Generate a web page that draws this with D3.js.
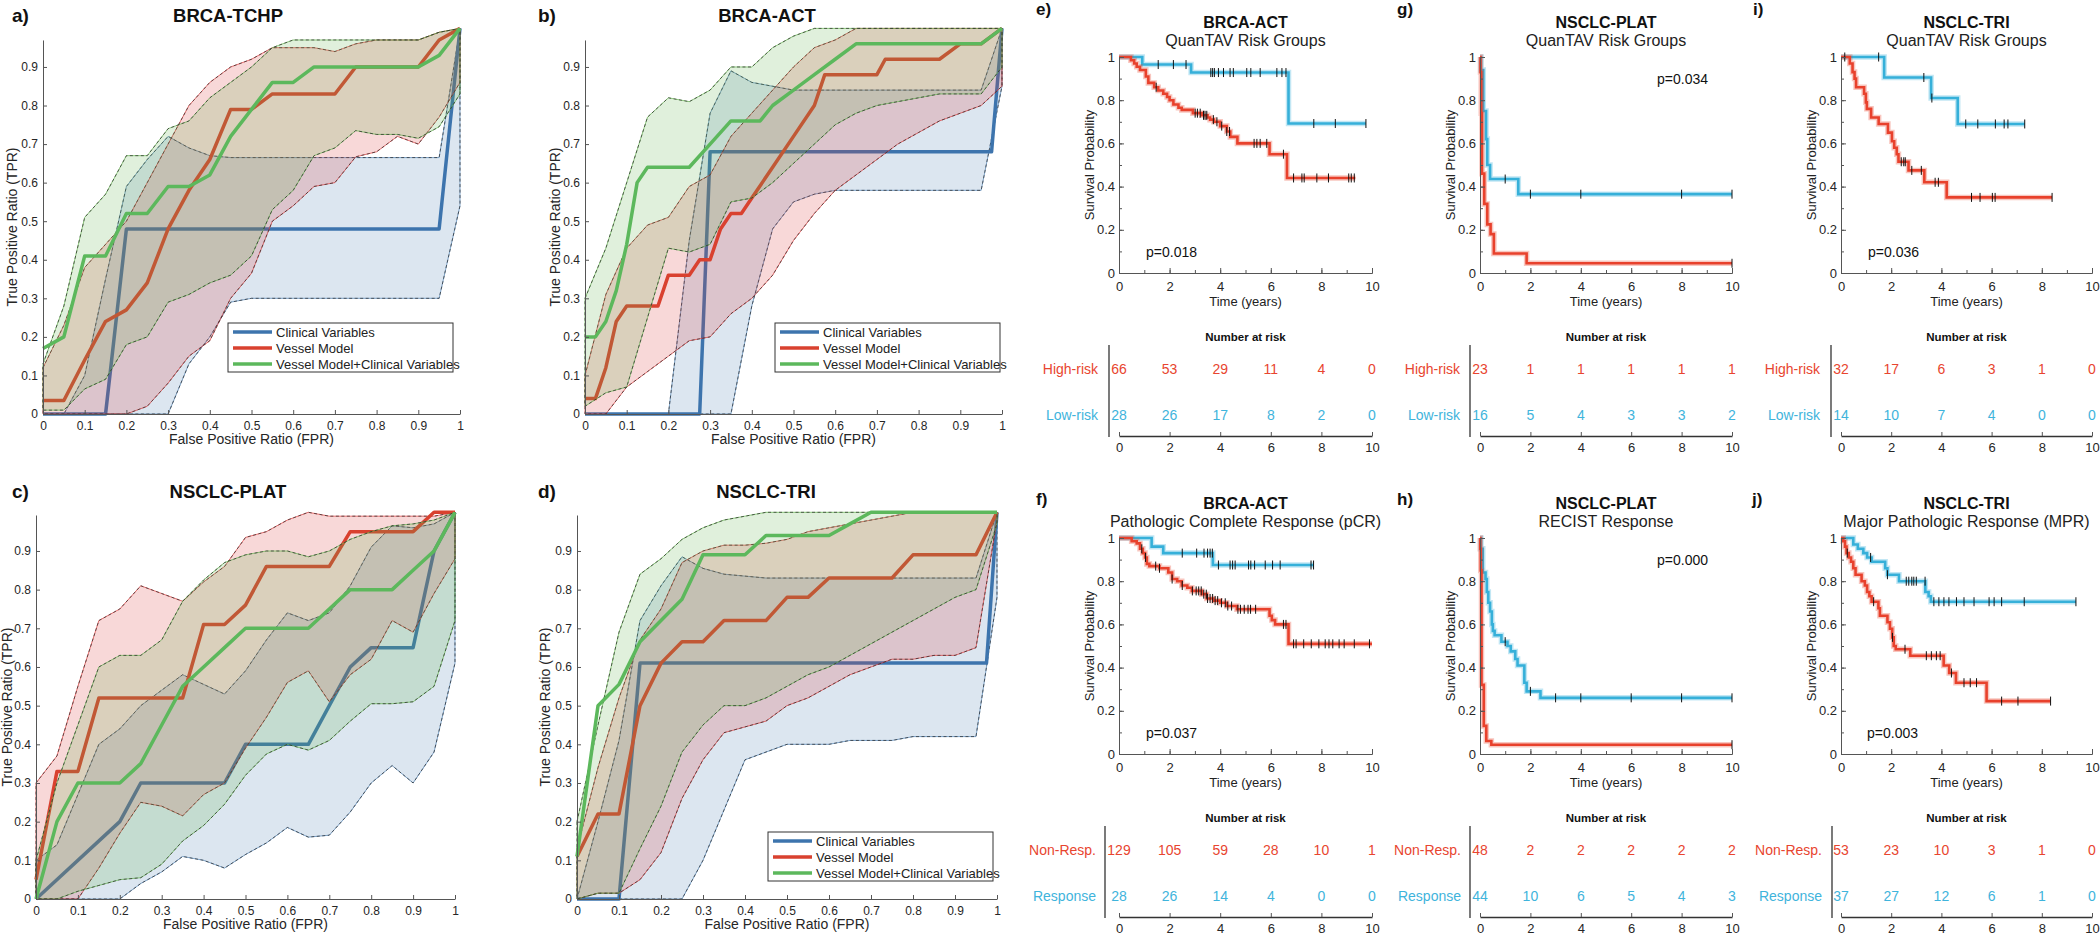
<!DOCTYPE html>
<html><head><meta charset="utf-8">
<script src="https://cdn.jsdelivr.net/npm/d3@7"></script>
<style>
body{margin:0;background:#fff}
svg{display:block}
text{font-family:"Liberation Sans",Arial,Helvetica,sans-serif}
</style>
</head><body>
<svg id="c" width="2100" height="936"></svg>
<script>
// ---------------- DATA ----------------
const FPR_GRID = [0,0.05,0.1,0.15,0.2,0.25,0.3,0.35,0.4,0.45,0.5,0.55,0.6,0.65,0.7,0.75,0.8,0.85,0.9,0.95,1];
const ROC_X_TICKS = [0,0.1,0.2,0.3,0.4,0.5,0.6,0.7,0.8,0.9,1];
const ROC_Y_TICKS = [0,0.1,0.2,0.3,0.4,0.5,0.6,0.7,0.8,0.9];
const rocTitles = ["BRCA-TCHP","BRCA-ACT","NSCLC-PLAT","NSCLC-TRI"];
const rocLetters = ["a)","b)","c)","d)"];
const seriesNames = ["Clinical Variables","Vessel Model","Vessel Model+Clinical Variables"];

// a) BRCA-TCHP
const aClin = [[0,0],[0.15,0],[0.2,0.48],[0.95,0.48],[1,1]];
const aVes  = [[0,0.035],[0.05,0.035],[0.1,0.14],[0.15,0.24],[0.2,0.27],[0.25,0.34],[0.3,0.48],[0.35,0.58],[0.4,0.66],[0.45,0.79],[0.5,0.79],[0.55,0.83],[0.7,0.83],[0.75,0.9],[0.9,0.9],[0.95,0.97],[1,1]];
const aComb = [[0,0.17],[0.05,0.2],[0.1,0.41],[0.15,0.41],[0.2,0.52],[0.25,0.52],[0.3,0.59],[0.35,0.59],[0.4,0.62],[0.45,0.72],[0.5,0.79],[0.55,0.86],[0.6,0.86],[0.65,0.9],[0.9,0.9],[0.95,0.93],[1,1]];
const aClinHi = [0,0,0.1,0.35,0.59,0.66,0.72,0.69,0.67,0.665,0.665,0.665,0.665,0.665,0.665,0.665,0.665,0.665,0.665,0.665,1];
const aClinLo = [0,0,0,0,0,0,0,0.13,0.2,0.29,0.3,0.3,0.3,0.3,0.3,0.3,0.3,0.3,0.3,0.3,0.54];
const aVesHi  = [0.12,0.23,0.38,0.44,0.5,0.6,0.7,0.8,0.86,0.9,0.92,0.95,0.95,0.95,0.94,0.96,0.97,0.97,0.97,0.99,1];
const aVesLo  = [0,0,0,0,0,0.02,0.08,0.15,0.19,0.3,0.365,0.5,0.54,0.59,0.6,0.667,0.68,0.72,0.7,0.77,0.86];
const aCombHi = [0.13,0.28,0.51,0.57,0.67,0.67,0.74,0.76,0.82,0.86,0.9,0.95,0.97,0.97,0.97,0.97,0.97,0.97,0.97,0.99,1];
const aCombLo = [0.01,0.01,0.065,0.09,0.18,0.2,0.29,0.31,0.34,0.36,0.41,0.53,0.58,0.67,0.69,0.735,0.725,0.725,0.715,0.745,0.83];

// b) BRCA-ACT
const bClin = [[0,0],[0.275,0],[0.3,0.68],[0.975,0.68],[1,1]];
const bVes  = [[0,0.04],[0.025,0.04],[0.05,0.12],[0.075,0.24],[0.1,0.28],[0.175,0.28],[0.2,0.36],[0.25,0.36],[0.275,0.4],[0.3,0.4],[0.325,0.48],[0.35,0.52],[0.375,0.52],[0.4,0.56],[0.45,0.64],[0.5,0.72],[0.55,0.8],[0.575,0.88],[0.7,0.88],[0.72,0.92],[0.85,0.92],[0.9,0.96],[0.95,0.96],[1,1]];
const bComb = [[0,0.2],[0.025,0.2],[0.05,0.24],[0.075,0.32],[0.1,0.44],[0.125,0.6],[0.15,0.64],[0.25,0.64],[0.3,0.7],[0.35,0.76],[0.42,0.76],[0.45,0.8],[0.5,0.84],[0.55,0.88],[0.6,0.92],[0.65,0.96],[0.95,0.96],[1,1]];
const bClinHi = [0,0,0,0,0,0.45,0.78,0.89,0.86,0.85,0.84,0.84,0.84,0.84,0.84,0.84,0.84,0.84,0.84,0.84,1];
const bClinLo = [0,0,0,0,0,0,0,0,0.28,0.48,0.55,0.57,0.58,0.58,0.58,0.58,0.58,0.58,0.58,0.58,0.85];
const bVesHi  = [0.1,0.31,0.43,0.49,0.51,0.59,0.62,0.72,0.78,0.84,0.9,0.95,0.97,1,1,1,1,1,1,1,1];
const bVesLo  = [0,0,0.07,0.11,0.15,0.19,0.2,0.26,0.3,0.36,0.45,0.52,0.58,0.62,0.66,0.7,0.73,0.76,0.78,0.8,0.85];
const bCombHi = [0.3,0.43,0.6,0.77,0.82,0.81,0.84,0.9,0.9,0.95,0.98,1,1,1,1,1,1,1,1,1,1];
const bCombLo = [0.02,0.055,0.07,0.25,0.43,0.42,0.44,0.55,0.56,0.6,0.65,0.7,0.75,0.78,0.8,0.81,0.82,0.83,0.83,0.83,0.9];

// c) NSCLC-PLAT
const cClin = [[0,0],[0.2,0.2],[0.25,0.3],[0.45,0.3],[0.5,0.4],[0.65,0.4],[0.7,0.5],[0.75,0.6],[0.8,0.65],[0.9,0.65],[0.95,0.9],[1,1]];
const cVes  = [[0,0.05],[0.05,0.33],[0.1,0.33],[0.15,0.52],[0.35,0.52],[0.4,0.71],[0.45,0.71],[0.5,0.76],[0.55,0.86],[0.7,0.86],[0.75,0.95],[0.9,0.95],[0.95,1],[1,1]];
const cComb = [[0,0],[0.05,0.2],[0.1,0.3],[0.2,0.3],[0.25,0.35],[0.3,0.45],[0.35,0.55],[0.4,0.6],[0.45,0.65],[0.5,0.7],[0.65,0.7],[0.7,0.75],[0.75,0.8],[0.85,0.8],[0.9,0.85],[0.95,0.9],[1,1]];
const cClinHi = [0.1,0.14,0.27,0.4,0.44,0.5,0.54,0.58,0.555,0.53,0.59,0.67,0.74,0.72,0.74,0.81,0.91,0.965,0.96,0.97,1];
const cClinLo = [0,0,0,0,0,0.04,0.07,0.11,0.1,0.08,0.115,0.145,0.185,0.16,0.165,0.225,0.3,0.345,0.3,0.38,0.61];
const cVesHi  = [0.3,0.37,0.55,0.72,0.75,0.81,0.79,0.77,0.82,0.86,0.935,0.95,0.98,1,0.99,0.99,0.99,0.99,0.99,0.99,1];
const cVesLo  = [0,0,0,0.08,0.17,0.25,0.24,0.215,0.27,0.3,0.39,0.47,0.56,0.59,0.51,0.58,0.62,0.72,0.69,0.79,0.88];
const cCombHi = [0.1,0.3,0.45,0.6,0.63,0.63,0.67,0.77,0.825,0.87,0.89,0.9,0.9,0.885,0.9,0.93,0.95,0.965,0.97,0.98,1];
const cCombLo = [0,0,0.02,0.035,0.05,0.055,0.09,0.15,0.19,0.245,0.32,0.375,0.4,0.385,0.41,0.46,0.505,0.505,0.51,0.55,0.72];

// d) NSCLC-TRI
const dClin = [[0,0],[0.1,0],[0.15,0.61],[0.975,0.61],[1,1]];
const dVes  = [[0,0.11],[0.05,0.22],[0.1,0.22],[0.15,0.5],[0.2,0.61],[0.25,0.665],[0.3,0.665],[0.35,0.72],[0.45,0.72],[0.5,0.78],[0.55,0.78],[0.6,0.83],[0.75,0.83],[0.8,0.89],[0.95,0.89],[1,1]];
const dComb = [[0,0.11],[0.05,0.5],[0.1,0.555],[0.15,0.665],[0.2,0.72],[0.25,0.775],[0.3,0.89],[0.4,0.89],[0.45,0.94],[0.6,0.94],[0.65,0.97],[0.7,1],[1,1]];
const dClinHi = [0,0.2,0.41,0.72,0.81,0.885,0.855,0.84,0.835,0.83,0.83,0.83,0.83,0.83,0.83,0.83,0.83,0.83,0.83,0.83,1];
const dClinLo = [0,0,0,0,0,0,0.1,0.23,0.36,0.38,0.4,0.4,0.4,0.41,0.41,0.41,0.42,0.42,0.42,0.42,0.78];
const dVesHi  = [0.13,0.34,0.52,0.67,0.75,0.87,0.9,0.915,0.915,0.92,0.93,0.95,0.96,0.97,0.98,0.99,1,1,1,1,1];
const dVesLo  = [0,0.015,0.015,0.05,0.12,0.26,0.36,0.43,0.445,0.46,0.5,0.52,0.55,0.58,0.6,0.62,0.62,0.63,0.63,0.65,0.98];
const dCombHi = [0.2,0.45,0.69,0.84,0.88,0.93,0.96,0.98,0.99,1,1,1,1,1,1,1,1,1,1,1,1];
const dCombLo = [0,0.015,0.015,0.13,0.24,0.38,0.45,0.5,0.5,0.52,0.55,0.58,0.6,0.63,0.66,0.69,0.72,0.75,0.78,0.8,0.97];

// Kaplan-Meier panels
const kmLetters = ["e)","g)","i)","f)","h)","j)"];
const kmTitles = ["BRCA-ACT","NSCLC-PLAT","NSCLC-TRI","BRCA-ACT","NSCLC-PLAT","NSCLC-TRI"];
const kmSubtitles = ["QuanTAV Risk Groups","QuanTAV Risk Groups","QuanTAV Risk Groups","Pathologic Complete Response (pCR)","RECIST Response","Major Pathologic Response (MPR)"];
const kmPValues = ["p=0.018","p=0.034","p=0.036","p=0.037","p=0.000","p=0.003"];
const kmGroupLabels = [["High-risk","Low-risk"],["High-risk","Low-risk"],["High-risk","Low-risk"],["Non-Resp.","Response"],["Non-Resp.","Response"],["Non-Resp.","Response"]];
const riskTimes = [0,2,4,6,8,10];
const KM_X_TICKS = [0,2,4,6,8,10];
const KM_Y_TICKS = [0,0.2,0.4,0.6,0.8,1];

// e) BRCA-ACT QuanTAV
const eRed = [[0,1],[0.47,0.985],[0.6,0.97],[0.7,0.955],[0.83,0.94],[1.06,0.91],[1.16,0.88],[1.39,0.86],[1.55,0.845],[1.75,0.83],[1.9,0.815],[2.0,0.8],[2.15,0.78],[2.35,0.765],[2.48,0.755],[2.92,0.74],[3.27,0.73],[3.5,0.72],[3.6,0.71],[3.75,0.7],[4.0,0.68],[4.26,0.655],[4.4,0.63],[4.68,0.6],[5.95,0.55],[6.64,0.44],[9.34,0.44]];
const eRedCens = [1.47,3.01,3.1,3.21,3.34,3.4,3.47,3.73,3.87,4.06,4.26,4.37,5.34,5.45,5.58,5.84,6.5,6.9,7.23,7.32,7.82,8.28,9.08,9.18,9.3];
const eBlue = [[0,1],[0.92,0.965],[2.85,0.928],[6.7,0.692],[9.76,0.692]];
const eBlueCens = [1.55,2.15,2.65,3.63,3.7,3.77,3.93,4.13,4.39,4.52,5.05,5.21,5.58,6.24,6.44,6.6,7.7,8.55,9.76];
const eRiskHigh = [66,53,29,11,4,0];
const eRiskLow  = [28,26,17,8,2,0];

// g) NSCLC-PLAT QuanTAV
const gRed = [[0,1],[0.02,0.93],[0.05,0.74],[0.08,0.46],[0.17,0.32],[0.29,0.225],[0.42,0.18],[0.55,0.09],[1.85,0.045],[10,0.045]];
const gRedCens = [10];
const gBlue = [[0,1],[0.04,0.94],[0.13,0.75],[0.24,0.62],[0.29,0.5],[0.4,0.435],[1.52,0.365],[10,0.365]];
const gBlueCens = [1.0,2.0,4.0,8.0,10.0];
const gRiskHigh = [23,1,1,1,1,1];
const gRiskLow  = [16,5,4,3,3,2];

// i) NSCLC-TRI QuanTAV
const iRed = [[0,1],[0.35,0.97],[0.46,0.93],[0.54,0.9],[0.6,0.86],[0.92,0.83],[0.99,0.79],[1.03,0.76],[1.2,0.72],[1.5,0.69],[1.87,0.65],[2.03,0.61],[2.12,0.58],[2.22,0.55],[2.29,0.515],[2.69,0.475],[3.32,0.42],[4.21,0.35],[8.41,0.35]];
const iRedCens = [2.4,2.5,2.56,2.82,3.2,3.75,3.88,5.2,5.54,6.03,6.14,8.41];
const iBlue = [[0,1],[1.72,0.905],[3.59,0.81],[4.65,0.69],[7.32,0.69]];
const iBlueCens = [0.15,1.5,3.3,3.62,4.97,5.45,6.15,6.5,6.65,7.32];
const iRiskHigh = [32,17,6,3,1,0];
const iRiskLow  = [14,10,7,4,0,0];

// f) BRCA-ACT pCR
const fRed = [[0,1],[0.5,0.985],[0.7,0.975],[0.83,0.95],[0.94,0.93],[1.03,0.91],[1.1,0.88],[1.2,0.87],[1.6,0.86],[1.95,0.84],[2.1,0.81],[2.3,0.8],[2.48,0.78],[2.7,0.77],[2.88,0.755],[3.27,0.74],[3.47,0.72],[3.73,0.71],[4.0,0.7],[4.26,0.685],[4.66,0.67],[5.95,0.64],[6.04,0.62],[6.17,0.6],[6.7,0.51],[10,0.51]];
const fRedCens = [0.9,1.05,1.45,1.6,2.1,2.5,2.9,3.05,3.15,3.25,3.35,3.45,3.5,3.6,3.7,3.8,3.9,4.05,4.2,4.3,4.45,4.7,4.8,4.95,5.1,5.2,5.4,6.5,6.6,6.9,7.0,7.3,7.6,7.9,8.15,8.3,8.45,8.7,8.9,9.3,9.9];
const fBlue = [[0,1],[1.29,0.96],[1.75,0.93],[3.71,0.875],[7.69,0.875]];
const fBlueCens = [2.5,3.07,3.36,3.5,3.6,3.69,3.93,4.39,4.49,4.59,5.12,5.21,5.36,5.78,6.07,6.37,7.59,7.69];
const fRiskNon  = [129,105,59,28,10,1];
const fRiskResp = [28,26,14,4,0,0];

// h) NSCLC-PLAT RECIST
const hRed = [[0,1],[0.01,0.95],[0.03,0.85],[0.06,0.32],[0.15,0.13],[0.25,0.06],[0.45,0.043],[10,0.043]];
const hRedCens = [10];
const hBlue = [[0,1],[0.04,0.95],[0.11,0.84],[0.22,0.81],[0.27,0.75],[0.33,0.7],[0.4,0.66],[0.47,0.6],[0.51,0.57],[0.58,0.55],[0.85,0.52],[1.09,0.5],[1.22,0.475],[1.4,0.44],[1.49,0.41],[1.76,0.33],[1.85,0.29],[2.4,0.26],[10,0.26]];
const hBlueCens = [1.0,2.0,3.0,4.0,6.0,8.0,10.0];
const hRiskNon  = [48,2,2,2,2,2];
const hRiskResp = [44,10,6,5,4,3];

// j) NSCLC-TRI MPR
const jRed = [[0,1],[0.09,0.985],[0.16,0.96],[0.22,0.93],[0.31,0.91],[0.4,0.89],[0.49,0.86],[0.58,0.83],[0.82,0.8],[0.95,0.78],[1.04,0.75],[1.13,0.73],[1.22,0.705],[1.49,0.675],[1.55,0.64],[1.85,0.61],[1.95,0.58],[2.04,0.54],[2.1,0.5],[2.18,0.485],[2.76,0.455],[4.09,0.41],[4.31,0.375],[4.58,0.33],[5.8,0.245],[8.35,0.245]];
const jRedCens = [0.25,1.3,2.05,2.55,3.4,3.6,3.8,3.95,4.4,4.9,5.15,5.4,6.4,7.05,8.35];
const jBlue = [[0,1],[0.49,0.97],[0.67,0.95],[0.89,0.93],[1.04,0.91],[1.22,0.89],[1.76,0.86],[1.85,0.83],[2.31,0.8],[3.36,0.75],[3.49,0.73],[3.58,0.705],[9.36,0.705]];
const jBlueCens = [1.18,1.85,2.6,2.7,2.82,2.9,3.0,3.35,3.7,3.9,4.1,4.3,4.6,4.9,5.3,5.9,6.1,6.4,7.3,9.36];
const jRiskNon  = [53,23,10,3,1,0];
const jRiskResp = [37,27,12,6,1,0];

// ---------------- STYLE / LAYOUT ----------------
const LINE_COLORS = ["#3d74ad","#d9412f","#5cb85c"];
const BAND_COLORS = ["rgb(80,130,180)","rgb(220,60,60)","rgb(100,180,80)"];
const KM_RED = "#e8412c", KM_BLUE = "#36b0d9";
const TXT_RED = "#e8452f", TXT_BLUE = "#3fb4dc";
const AXIS_COL = "#555";

const svg = d3.select("#c");

function styleAxis(sel, fs){
  sel.selectAll(".domain").attr("stroke",AXIS_COL).attr("stroke-width",1);
  sel.selectAll(".tick line").attr("stroke",AXIS_COL).attr("stroke-width",1);
  sel.selectAll(".tick text").style("fill","#262626").style("font-size",fs+"px")
     .style("font-family",'"Liberation Sans",Arial,sans-serif');
}
const fmtTick = v => (v===0?"0":v===1?"1":(+v).toFixed(1).replace(/\.0$/,""));

// ---------------- ROC PANELS ----------------
const rocData = [
  {clin:aClin,ves:aVes,comb:aComb,clinLo:aClinLo,clinHi:aClinHi,vesLo:aVesLo,vesHi:aVesHi,combLo:aCombLo,combHi:aCombHi},
  {clin:bClin,ves:bVes,comb:bComb,clinLo:bClinLo,clinHi:bClinHi,vesLo:bVesLo,vesHi:bVesHi,combLo:bCombLo,combHi:bCombHi},
  {clin:cClin,ves:cVes,comb:cComb,clinLo:cClinLo,clinHi:cClinHi,vesLo:cVesLo,vesHi:cVesHi,combLo:cCombLo,combHi:cCombHi},
  {clin:dClin,ves:dVes,comb:dComb,clinLo:dClinLo,clinHi:dClinHi,vesLo:dVesLo,vesHi:dVesHi,combLo:dCombLo,combHi:dCombHi}
];
const rocLayout = [
  {x0:43, x1:460, y0:414, y1:28.4, top:0.97, letterX:12, baseY:22, titleX:228, ylabX:17, legRight:453, legBottom:372},
  {x0:585,x1:1002,y0:414, y1:28.4, top:0.97, letterX:538,baseY:22, titleX:767, ylabX:560,legRight:1000, legBottom:372},
  {x0:36, x1:455, y0:899, y1:512.3,top:0.993,letterX:12, baseY:498,titleX:228, ylabX:12, legRight:null},
  {x0:577,x1:997, y0:899, y1:512.3,top:0.993,letterX:538,baseY:498,titleX:766, ylabX:550,legRight:993, legBottom:881}
];

function drawRoc(i){
  const L = rocLayout[i], D = rocData[i];
  const g = svg.append("g");
  const x = d3.scaleLinear().domain([0,1]).range([L.x0,L.x1]);
  const y = d3.scaleLinear().domain([0,1]).range([L.y0,L.y1]);
  const series = [[D.clin,D.clinLo,D.clinHi],[D.ves,D.vesLo,D.vesHi],[D.comb,D.combLo,D.combHi]];
  const meanLine = d3.line().x(p=>x(p[0])).y(p=>y(p[1]));
  series.forEach(([mean,lo,hi],k)=>{
    const area = d3.area().x((v,j)=>x(FPR_GRID[j])).y0((v,j)=>y(lo[j])).y1(v=>y(v));
    const ap = area(hi);
    g.append("path").attr("d",ap).attr("fill",BAND_COLORS[k]).attr("fill-opacity",0.2).attr("stroke","none");
    g.append("path").attr("d",ap).attr("fill","none").attr("stroke",BAND_COLORS[k]).attr("stroke-width",0.9).attr("stroke-opacity",0.8);
    g.append("path").attr("d",ap).attr("fill","none").attr("stroke","#222").attr("stroke-width",0.8)
      .attr("stroke-dasharray","3,2.5").attr("stroke-opacity",0.85);
    g.append("path").datum(mean).attr("d",meanLine).attr("fill","none")
      .attr("stroke",LINE_COLORS[k]).attr("stroke-width",3.5).attr("stroke-linejoin","round");
  });
  // axes
  const xa = g.append("g").attr("transform",`translate(0,${L.y0})`)
    .call(d3.axisBottom(x).tickValues(ROC_X_TICKS).tickSize(-4).tickSizeOuter(0).tickPadding(7.5).tickFormat(fmtTick));
  styleAxis(xa,12);
  const yAx = d3.scaleLinear().domain([0,L.top]).range([y(0),y(L.top)]);
  const ya = g.append("g").attr("transform",`translate(${L.x0},0)`)
    .call(d3.axisLeft(yAx).tickValues(ROC_Y_TICKS).tickSize(-4).tickSizeOuter(0).tickPadding(5).tickFormat(fmtTick));
  styleAxis(ya,12);
  // labels
  g.append("text").attr("x",L.letterX).attr("y",L.baseY).style("font-size","19px").style("font-weight","bold").style("fill","#111").text(rocLetters[i]);
  g.append("text").attr("x",L.titleX).attr("y",L.baseY).attr("text-anchor","middle").style("font-size","18.5px").style("font-weight","bold").style("fill","#111").text(rocTitles[i]);
  g.append("text").attr("x",(L.x0+L.x1)/2).attr("y",L.y0+30).attr("text-anchor","middle").style("font-size","14px").style("fill","#262626").text("False Positive Ratio (FPR)");
  g.append("text").attr("transform",`translate(${L.ylabX},${(y(0)+y(L.top))/2}) rotate(-90)`).attr("text-anchor","middle").style("font-size","14px").style("fill","#262626").text("True Positive Ratio (TPR)");
  // legend
  if(L.legRight!==null){
    const w=225,h=49, lx=L.legRight-w, ly=L.legBottom-h;
    const lg = g.append("g").attr("transform",`translate(${lx},${ly})`);
    lg.append("rect").attr("width",w).attr("height",h).attr("fill","#fff").attr("stroke","#333").attr("stroke-width",1);
    seriesNames.forEach((nm,k)=>{
      const yy = 9+k*16;
      lg.append("line").attr("x1",5).attr("x2",44).attr("y1",yy).attr("y2",yy).attr("stroke",LINE_COLORS[k]).attr("stroke-width",3.5);
      lg.append("text").attr("x",48).attr("y",yy+4.5).style("font-size","13px").style("fill","#222").text(nm);
    });
  }
}
[0,1,2,3].forEach(drawRoc);

// ---------------- KM PANELS ----------------
const kmData = [
  {red:eRed,redC:eRedCens,blue:eBlue,blueC:eBlueCens,r1:eRiskHigh,r2:eRiskLow},
  {red:gRed,redC:gRedCens,blue:gBlue,blueC:gBlueCens,r1:gRiskHigh,r2:gRiskLow},
  {red:iRed,redC:iRedCens,blue:iBlue,blueC:iBlueCens,r1:iRiskHigh,r2:iRiskLow},
  {red:fRed,redC:fRedCens,blue:fBlue,blueC:fBlueCens,r1:fRiskNon,r2:fRiskResp},
  {red:hRed,redC:hRedCens,blue:hBlue,blueC:hBlueCens,r1:hRiskNon,r2:hRiskResp},
  {red:jRed,redC:jRedCens,blue:jBlue,blueC:jBlueCens,r1:jRiskNon,r2:jRiskResp}
];
const kmLayout = [
  {x0:1119,x1:1372,row:0,letterX:1036,letterY:15,vline:1109,labR:1098,pX:1146,pY:257},
  {x0:1480,x1:1732,row:0,letterX:1397,letterY:15,vline:1470,labR:1460,pX:1657,pY:84},
  {x0:1841,x1:2092,row:0,letterX:1753,letterY:15,vline:1831,labR:1820,pX:1868,pY:257},
  {x0:1119,x1:1372,row:1,letterX:1036,letterY:505,vline:1105,labR:1096,pX:1146,pY:738},
  {x0:1480,x1:1732,row:1,letterX:1397,letterY:505,vline:1470,labR:1461,pX:1657,pY:565},
  {x0:1841,x1:2092,row:1,letterX:1752,letterY:505,vline:1832,labR:1822,pX:1867,pY:738}
];

function stepAt(steps,t){
  let s = steps[0][1];
  for(const [ti,si] of steps){ if(ti<=t) s=si; else break; }
  return s;
}

function drawKm(i){
  const L = kmLayout[i], D = kmData[i];
  const off = L.row*481;
  const g = svg.append("g");
  const x = d3.scaleLinear().domain([0,10]).range([L.x0,L.x1]);
  const y = d3.scaleLinear().domain([0,1]).range([273+off,57+off]);
  const cx = (L.x0+L.x1)/2;

  // titles
  g.append("text").attr("x",L.letterX).attr("y",L.letterY).style("font-size","17px").style("font-weight","bold").style("fill","#111").text(kmLetters[i]);
  g.append("text").attr("x",cx).attr("y",28+off).attr("text-anchor","middle").style("font-size","16px").style("font-weight","bold").style("fill","#111").text(kmTitles[i]);
  g.append("text").attr("x",cx).attr("y",46+off).attr("text-anchor","middle").style("font-size","16px").style("fill","#222").text(kmSubtitles[i]);

  // curves
  const line = d3.line().curve(d3.curveStepAfter).x(p=>x(p[0])).y(p=>y(p[1]));
  [[D.blue,KM_BLUE],[D.red,KM_RED]].forEach(([steps,col])=>{
    g.append("path").datum(steps).attr("d",line).attr("fill","none").attr("stroke",col).attr("stroke-width",5.5).attr("stroke-opacity",0.3);
    g.append("path").datum(steps).attr("d",line).attr("fill","none").attr("stroke",col).attr("stroke-width",2.6);
  });
  [[D.blue,D.blueC],[D.red,D.redC]].forEach(([steps,cens])=>{
    g.selectAll(null).data(cens).enter().append("line")
      .attr("x1",t=>x(t)).attr("x2",t=>x(t))
      .attr("y1",t=>y(stepAt(steps,t))-4.5).attr("y2",t=>y(stepAt(steps,t))+4.5)
      .attr("stroke","#111").attr("stroke-width",1);
  });

  // axes with minor ticks
  const xMinor = g.append("g").attr("transform",`translate(0,${y(0)})`)
    .call(d3.axisBottom(x).tickValues(d3.range(0,11,1)).tickSize(-3).tickSizeOuter(0).tickFormat(""));
  styleAxis(xMinor,13);
  const xa = g.append("g").attr("transform",`translate(0,${y(0)})`)
    .call(d3.axisBottom(x).tickValues(KM_X_TICKS).tickSize(-5).tickSizeOuter(0).tickPadding(9));
  styleAxis(xa,13);
  const yMinor = g.append("g").attr("transform",`translate(${L.x0},0)`)
    .call(d3.axisLeft(y).tickValues(d3.range(0,11,1).map(v=>v/10)).tickSize(-3).tickSizeOuter(0).tickFormat(""));
  styleAxis(yMinor,13);
  const ya = g.append("g").attr("transform",`translate(${L.x0},0)`)
    .call(d3.axisLeft(y).tickValues(KM_Y_TICKS).tickSize(-5).tickSizeOuter(0).tickPadding(4).tickFormat(fmtTick));
  styleAxis(ya,13);

  g.append("text").attr("transform",`translate(${L.x0-25},${(y(0)+y(1))/2}) rotate(-90)`).attr("text-anchor","middle").style("font-size","13px").style("fill","#222").text("Survival Probability");
  g.append("text").attr("x",cx).attr("y",306+off).attr("text-anchor","middle").style("font-size","13px").style("fill","#222").text("Time (years)");
  g.append("text").attr("x",L.pX).attr("y",L.pY).style("font-size","14px").style("fill","#111").text(kmPValues[i]);

  // number at risk table
  g.append("text").attr("x",cx).attr("y",341+off).attr("text-anchor","middle").style("font-size","11.5px").style("font-weight","bold").style("fill","#111").text("Number at risk");
  g.append("line").attr("x1",L.vline).attr("x2",L.vline).attr("y1",345+off).attr("y2",437+off).attr("stroke","#333").attr("stroke-width",1.3);
  const rows = [[D.r1,kmGroupLabels[i][0],TXT_RED,374],[D.r2,kmGroupLabels[i][1],TXT_BLUE,420]];
  rows.forEach(([vals,lab,col,by])=>{
    g.append("text").attr("x",L.labR).attr("y",by+off).attr("text-anchor","end").style("font-size","14px").style("fill",col).text(lab);
    g.selectAll(null).data(vals).enter().append("text")
      .attr("x",(v,k)=>x(riskTimes[k])).attr("y",by+off).attr("text-anchor","middle")
      .style("font-size","14px").style("fill",col).text(v=>v);
  });
  const ta = g.append("g").attr("transform",`translate(0,${436+off})`)
    .call(d3.axisBottom(x).tickValues(riskTimes).tickSize(-4).tickSizeOuter(0).tickPadding(7));
  styleAxis(ta,13);
  ta.select(".domain").attr("stroke","#333").attr("stroke-width",1.5);
}
[0,1,2,3,4,5].forEach(drawKm);
</script>
</body></html>
